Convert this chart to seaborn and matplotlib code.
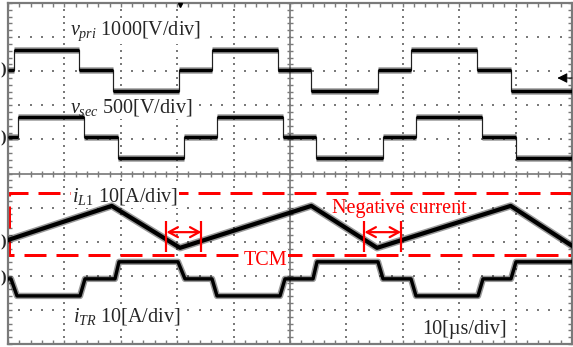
import numpy as np
import pandas as pd
import matplotlib
matplotlib.use("Agg")
import matplotlib.pyplot as plt
import seaborn as sns

sns.set_theme(style="white")
plt.rcParams["font.family"] = ["Liberation Serif", "DejaVu Serif"]
plt.rcParams["mathtext.fontset"] = "custom"
plt.rcParams["mathtext.rm"] = "Liberation Serif"
plt.rcParams["mathtext.it"] = "Liberation Serif:italic"
plt.rcParams["lines.scale_dashes"] = False

# ---------------- data ----------------
# time in microseconds (10 us/div), channel values in V or A
vpri_edges_us = [0, 1.06, 12.64, 18.62, 30.32, 36.17, 47.87, 53.72, 65.60, 71.45, 83.16, 89.18, 100]
vpri_levels_V = [0, 600, 0, -600, 0, 600, 0, -600, 0, 600, 0, -600]
vsec_edges_us = [0, 1.83, 13.48, 19.56, 31.21, 37.06, 48.76, 54.61, 66.49, 72.34, 84.04, 90.07, 100]
vsec_levels_V = [0, 300, 0, -300, 0, 300, 0, -300, 0, 300, 0, -300]
iL1_t_us = [0, 18.39, 30.50, 53.78, 65.43, 89.13, 100]
iL1_A = [0.5, 10.5, -1.8, 10.5, -1.8, 10.5, -1.2]
iTR_t_us = [0, 0.53, 1.60, 12.77, 13.65, 18.97, 19.68, 30.14, 31.38, 36.17, 37.06, 48.23,
            49.11, 54.08, 54.79, 65.60, 66.49, 71.45, 72.34, 83.33, 84.22, 89.18, 90.07, 100]
iTR_A = [-0.3, -0.3, -5.3, -5.3, -0.3, -0.3, 4.7, 4.7, -0.3, -0.3, -5.3, -5.3,
         -0.3, -0.3, 4.7, 4.7, -0.3, -0.3, -5.3, -5.3, -0.3, -0.3, 4.7, 4.7]

# channel scale (units/div) and screen offset (div)
ch_scale = {"vpri": 1000, "vsec": 500, "iL1": 10, "iTR": 10}
ch_offset = {"vpri": 3.03, "vsec": 1.06, "iL1": -2.0, "iTR": -3.06}
labels = {
    "vpri": r"$v_{pri}$ 1000[V/div]",
    "vsec": r"$v_{sec}$ 500[V/div]",
    "iL1": r"$i_{\mathit{L1}}$ 10[A/div]",
    "iTR": r"$i_{\mathit{TR}}$ 10[A/div]",
    "time": "10[µs/div]",
}

GREY = "#7a7a7a"
RED = "#ff0000"
PX = 0.72  # points per pixel at dpi 100

fig = plt.figure(figsize=(5.73, 3.47), dpi=100)
ax = fig.add_axes([8 / 573, 3 / 347, 564 / 573, 341 / 347])
ax.set_xlim(0, 100)
ax.set_ylim(-5, 5)

# ---------------- graticule ----------------
xmin = np.arange(0, 100.01, 2)
ymin = np.arange(-5, 5.01, 0.2)
ax.set_xticks(np.arange(0, 101, 10))
ax.set_yticks(np.arange(-5, 6, 1))
ax.set_xticks(xmin, minor=True)
ax.set_yticks(ymin, minor=True)
ax.tick_params(which="both", direction="in", length=4 * PX, width=1.4 * PX, color=GREY,
               top=True, right=True, bottom=True, left=True,
               labelbottom=False, labelleft=False)
for s in ax.spines.values():
    s.set_color(GREY)
    s.set_linewidth(2.2 * PX)
for gx in [10, 20, 30, 40, 60, 70, 80, 90]:
    ax.plot([gx] * len(ymin), ymin, ls="none", marker="s", ms=2.1 * PX, mew=0, color=GREY, zorder=1)
for gy in [-4, -3, -2, -1, 1, 2, 3, 4]:
    ax.plot(xmin, [gy] * len(xmin), ls="none", marker="s", ms=2.1 * PX, mew=0, color=GREY, zorder=1)
ax.axhline(0, color=GREY, lw=1.7 * PX, zorder=1)
ax.axvline(50, color=GREY, lw=1.7 * PX, zorder=1)
ax.plot(xmin, np.zeros_like(xmin), ls="none", marker="|", ms=6 * PX, mew=1.4 * PX, color=GREY, zorder=1)
ax.plot(np.full_like(ymin, 50), ymin, ls="none", marker="_", ms=6 * PX, mew=1.4 * PX, color=GREY, zorder=1)

# ---------------- TCM dashed box ----------------
ax.plot([100, 0.18, 0.18, 100], [-0.563, -0.563, -2.39, -2.39], color=RED, lw=3 * PX,
        dashes=(22 * PX, 10 * PX), zorder=2)


def to_div(vals, ch):
    return [ch_offset[ch] + v / ch_scale[ch] for v in vals]


# ---------------- step voltage traces ----------------
for ch, edges, levels in [("vpri", vpri_edges_us, vpri_levels_V), ("vsec", vsec_edges_us, vsec_levels_V)]:
    xs, ys = [], []
    for i, lv in enumerate(levels):
        xs += [edges[i], edges[i + 1]]
        ys += [lv, lv]
    df = pd.DataFrame({"t": xs, "y": to_div(ys, ch)})
    sns.lineplot(data=df, x="t", y="y", ax=ax, estimator=None, sort=False,
                 color="#222222", lw=1.2 * PX, zorder=4)
    yl = to_div(levels, ch)
    ax.hlines(yl, edges[:-1], edges[1:], color="black", lw=6.5 * PX, alpha=0.4, zorder=4)
    ax.hlines(yl, edges[:-1], edges[1:], color="black", lw=3.4 * PX, zorder=5)

# ---------------- current traces ----------------
for ch, t, v, w in [("iL1", iL1_t_us, iL1_A, 4.2), ("iTR", iTR_t_us, iTR_A, 3.4)]:
    df = pd.DataFrame({"t": t, "y": to_div(v, ch)})
    sns.lineplot(data=df, x="t", y="y", ax=ax, estimator=None, sort=False,
                 color="black", lw=(w + 3) * PX, alpha=0.4, zorder=4)
    sns.lineplot(data=df, x="t", y="y", ax=ax, estimator=None, sort=False,
                 color="black", lw=w * PX, zorder=5)

# ---------------- negative current markers ----------------
for x0, x1 in [(28.1, 34.3), (63.2, 69.7)]:
    ax.vlines([x0, x1], -2.30, -1.39, color=RED, lw=2.2 * PX, zorder=6)
    ax.annotate("", xy=(x0, -1.72), xytext=(x1, -1.72),
                arrowprops=dict(arrowstyle="<->,head_length=0.55,head_width=0.3",
                                color=RED, lw=2.2 * PX, shrinkA=0, shrinkB=0), zorder=6)

# ---------------- texts ----------------
box = dict(facecolor="white", edgecolor="none", pad=1.0)
fs = 14.5
ax.text(10.99, 4.06, labels["vpri"], fontsize=fs, va="baseline", ha="left", bbox=box, zorder=3)
ax.text(10.99, 1.80, labels["vsec"], fontsize=fs, va="baseline", ha="left", bbox=box, zorder=3)
ax.text(11.35, -0.81, labels["iL1"], fontsize=fs, va="baseline", ha="left", bbox=box, zorder=3)
ax.text(11.50, -4.35, labels["iTR"], fontsize=fs, va="baseline", ha="left", bbox=box, zorder=3)
ax.text(73.4, -4.70, labels["time"], fontsize=fs, va="baseline", ha="left", bbox=box, zorder=3)
ax.text(57.4, -1.15, "Negative current", fontsize=fs, color=RED, va="baseline", ha="left", zorder=3)
ax.text(41.7, -2.68, "TCM", fontsize=fs, color=RED, va="baseline", ha="left", bbox=box, zorder=3)

# trigger level arrow on the right and trigger position mark on top
ax.annotate("", xy=(97.4, 2.80), xytext=(100, 2.80),
            arrowprops=dict(arrowstyle="-|>,head_length=0.5,head_width=0.25", color="black",
                            lw=1.0 * PX, shrinkA=0, shrinkB=0), zorder=6)
ax.plot([30.5], [4.93], ls="none", marker="v", ms=4 * PX, color="black", zorder=6, clip_on=False)

# channel ground markers at the left edge of the picture
for ypx in [70, 138, 242, 278]:
    fig.text(0.5 / 573, 1 - ypx / 347, ")", fontsize=12, fontweight="bold", ha="left", va="center")

ax.set_xlabel("")
ax.set_ylabel("")
fig.savefig("out.png", dpi=100)
